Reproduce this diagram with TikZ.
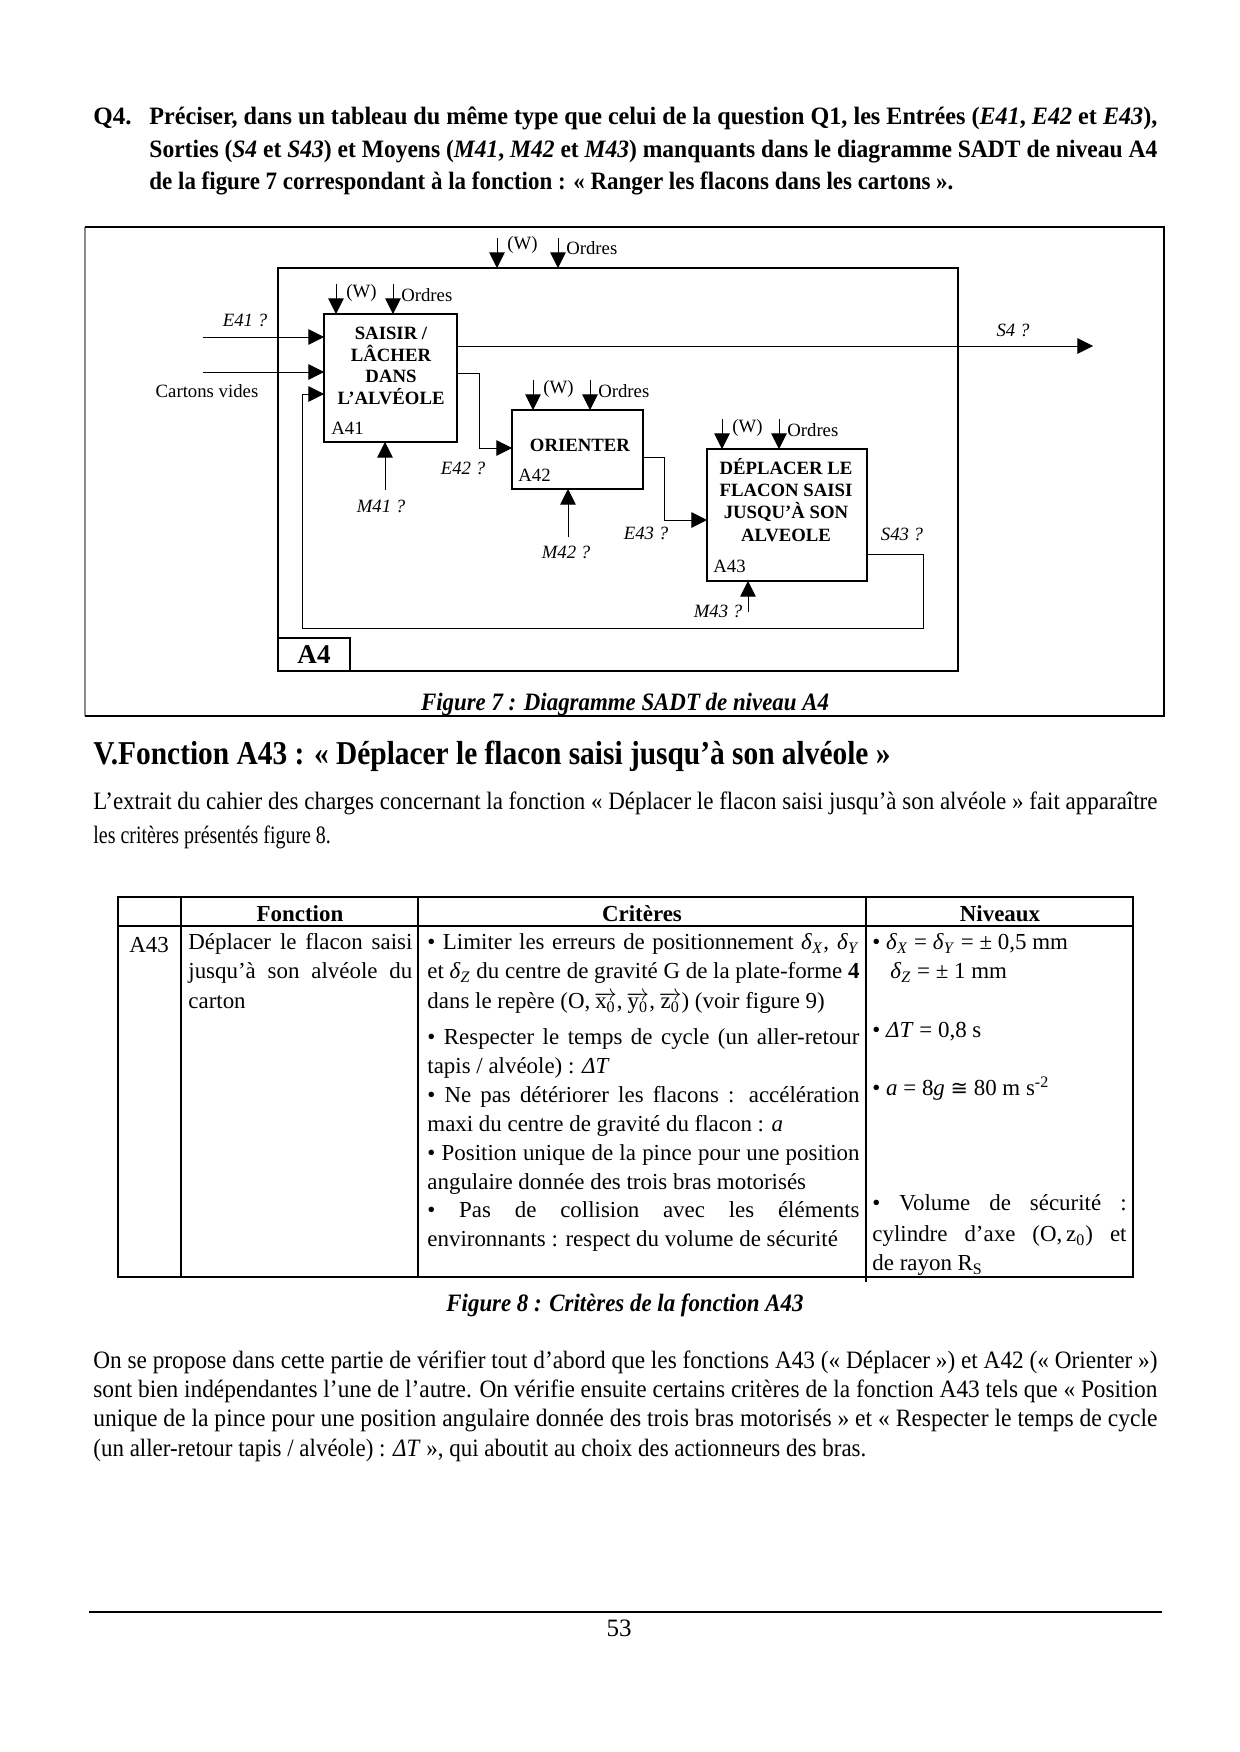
\documentclass[tikz,border=0pt]{standalone}
\usepackage{fontspec}
\setmainfont{Liberation Serif}
\newfontfamily\symbfont{DejaVu Sans}
\usepackage{graphicx}
\usetikzlibrary{arrows.meta,positioning}

% une ligne de texte ramenee a la largeur voulue
\newcommand{\fitline}[2]{\resizebox{#1}{\height}{#2}}
\newcommand{\just}[2]{\makebox[#1][s]{#2}}
\newcommand{\dlt}[1]{\textit{δ}\textsubscript{\textit{#1}}}
\newcommand{\vecteur}[1]{$\overrightarrow{\hbox{#1\textsubscript{0}}}$}

\tikzset{
  flux/.style={-{Triangle[length=7.5pt,width=7.5pt]}, line width=0.45pt},
  boite/.style={line width=0.6pt},
  fonct/.style={font=\fontsize{9}{10.4}\selectfont\bfseries, align=center, inner sep=0pt},
  petit/.style={font=\fontsize{9}{10}\selectfont, inner sep=0pt},
  quest/.style={font=\fontsize{9}{10}\selectfont\itshape, inner sep=0pt},
  ligne/.style={anchor=mid west, inner sep=0pt, font=\fontsize{12}{14}\selectfont},
  gras/.style={anchor=mid west, inner sep=0pt, font=\fontsize{12}{14}\selectfont\bfseries},
  cellule/.style={anchor=mid west, inner sep=0pt, font=\fontsize{11}{13}\selectfont},
}

\begin{document}
\begin{tikzpicture}[x=0.48pt,y=-0.48pt]
  \fill[white] (0,0) rectangle (1240,1752);
  \useasboundingbox (0,0) rectangle (1240,1752);

  % question Q4
  \node[gras] (q4) at (93,120) {Q4.};
  \node[gras] (q4a) at (149,120) {\fitline{483.8pt}{Préciser, dans un tableau du même type que celui de la question Q1, les Entrées (\textit{E41}, \textit{E42} et \textit{E43}),}};
  \node[gras] (q4b) at (149,153) {\fitline{483.8pt}{Sorties (\textit{S4} et \textit{S43}) et Moyens (\textit{M41}, \textit{M42} et \textit{M43}) manquants dans le diagramme SADT de niveau A4}};
  \node[gras] (q4c) at (149,185) {\fitline{385.9pt}{de la figure 7 correspondant à la fonction : « Ranger les flacons dans les cartons ».}};

  % figure 7
  \coordinate (cadreNO) at (85,227);
  \coordinate (cadreSE) at (1164,716);
  \draw[black!45, line width=0.5pt] (cadreNO) -- (cadreNO |- cadreSE);
  \draw[line width=0.7pt] (cadreNO) -- (cadreNO -| cadreSE) -- (cadreSE) -- (cadreNO |- cadreSE);

  \coordinate (a4no) at (278,268);
  \coordinate (a4se) at (958,671);
  \coordinate (tag) at (350,638);
  \draw[boite] (a4no) rectangle (a4se);
  \draw[boite] (a4no |- tag) -- (tag) -- (tag |- a4se);
  \node[font=\fontsize{13}{15}\selectfont\bfseries] (a4) at (314,655) {A4};

  \coordinate (w4) at (497,268);
  \coordinate (o4) at (558,268);
  \draw[flux] ([yshift=14.4pt]w4) -- (w4);
  \draw[flux] ([yshift=14.4pt]o4) -- (o4);
  \node[petit, anchor=mid west] (w4t) at ([xshift=4.8pt,yshift=11pt]w4) {(W)};
  \node[petit, anchor=mid west] (o4t) at ([xshift=3.8pt,yshift=9pt]o4) {Ordres};

  % A41
  \coordinate (a41no) at (324,314);
  \coordinate (a41se) at (457,442);
  \draw[boite] (a41no) rectangle (a41se);
  \node[fonct] (t41) at (391,366) {SAISIR /\\LÂCHER\\DANS\\L’ALVÉOLE};
  \node[petit, anchor=mid west] (n41) at (331,430) {A41};
  \coordinate (w41) at (336,314);
  \coordinate (o41) at (393,314);
  \draw[flux] ([yshift=14.4pt]w41) -- (w41);
  \draw[flux] ([yshift=14.4pt]o41) -- (o41);
  \node[petit, anchor=mid west] (w41t) at ([xshift=4.8pt,yshift=10pt]w41) {(W)};
  \node[petit, anchor=mid west] (o41t) at ([xshift=3.8pt,yshift=8.4pt]o41) {Ordres};

  % A42
  \coordinate (a42no) at (512,410);
  \coordinate (a42se) at (643,489);
  \draw[boite] (a42no) rectangle (a42se);
  \node[fonct] (t42) at (580,445) {ORIENTER};
  \node[petit, anchor=mid west] (n42) at (518,477) {A42};
  \coordinate (w42) at (533,410);
  \coordinate (o42) at (590,410);
  \draw[flux] ([yshift=14.4pt]w42) -- (w42);
  \draw[flux] ([yshift=14.4pt]o42) -- (o42);
  \node[petit, anchor=mid west] (w42t) at ([xshift=4.8pt,yshift=10pt]w42) {(W)};
  \node[petit, anchor=mid west] (o42t) at ([xshift=3.8pt,yshift=8.4pt]o42) {Ordres};

  % A43
  \coordinate (a43no) at (707,449);
  \coordinate (a43se) at (867,581);
  \draw[boite] (a43no) rectangle (a43se);
  \node[fonct, font=\fontsize{9}{10.6}\selectfont\bfseries] (t43) at (786,500) {DÉPLACER LE\\FLACON SAISI\\JUSQU’À SON\\ALVEOLE};
  \node[petit, anchor=mid west] (n43) at (713,568) {A43};
  \coordinate (w43) at (722,449);
  \coordinate (o43) at (779,449);
  \draw[flux] ([yshift=14.4pt]w43) -- (w43);
  \draw[flux] ([yshift=14.4pt]o43) -- (o43);
  \node[petit, anchor=mid west] (w43t) at ([xshift=4.8pt,yshift=10pt]w43) {(W)};
  \node[petit, anchor=mid west] (o43t) at ([xshift=3.8pt,yshift=8.4pt]o43) {Ordres};

  % entrees et sorties
  \coordinate (e41) at (203,337);
  \draw[flux] (e41) -- (e41 -| a41no);
  \node[quest] (e41t) at (245,320) {E41 ?};
  \coordinate (carton) at (203,372);
  \draw[flux] (carton) -- (carton -| a41no);
  \node[petit] (cartont) at (207,391) {Cartons vides};

  \coordinate (s4) at (1093,346);
  \draw[flux] (a41se |- s4) -- (s4);
  \node[quest] (s4t) at (1013,330) {S4 ?};

  \coordinate (e42) at (479,373);
  \coordinate (e42b) at (479,448);
  \draw[flux] (a41se |- e42) -- (e42) -- (e42b) -- (e42b -| a42no);
  \node[quest] (e42t) at (463,468) {E42 ?};

  \coordinate (e43) at (664,457);
  \coordinate (e43b) at (664,520);
  \draw[flux] (a42se |- e43) -- (e43) -- (e43b) -- (e43b -| a43no);
  \node[quest] (e43t) at (646,533) {E43 ?};

  \coordinate (s43) at (867,554);
  \coordinate (boucle) at (923,628);
  \coordinate (retour) at (302,394);
  \draw[flux] (s43) -- (boucle |- s43) -- (boucle) -- (retour |- boucle) -- (retour) -- (retour -| a41no);
  \node[quest] (s43t) at (902,534) {S43 ?};

  % moyens
  \coordinate (m41) at (385,490);
  \draw[flux] (m41) -- (m41 |- a41se);
  \node[quest] (m41t) at (381,506) {M41 ?};
  \coordinate (m42) at (568,537);
  \draw[flux] (m42) -- (m42 |- a42se);
  \node[quest] (m42t) at (566,552) {M42 ?};
  \coordinate (m43) at (748,612);
  \draw[flux] (m43) -- (m43 |- a43se);
  \node[quest] (m43t) at (718,611) {M43 ?};

  \node[font=\fontsize{12}{14}\selectfont\bfseries\itshape] (fig7) at (625,704) {\fitline{195.8pt}{Figure 7 : Diagramme SADT de niveau A4}};

  % partie V
  \node[anchor=mid west, inner sep=0pt, font=\fontsize{16}{19}\selectfont\bfseries] (titre) at (93,760) {\fitline{382.6pt}{V.Fonction A43 : « Déplacer le flacon saisi jusqu'à son alvéole »}};
  \node[ligne] (p1a) at (93,805) {\fitline{510.7pt}{L'extrait du cahier des charges concernant la fonction « Déplacer le flacon saisi jusqu'à son alvéole » fait apparaître}};
  \node[ligne] (p1b) at (93,839) {\fitline{114pt}{les critères présentés figure 8.}};

  % tableau figure 8
  \coordinate (tabno) at (118,897);
  \coordinate (tabse) at (1133,1277);
  \draw[line width=0.5pt] (tabno) rectangle (tabse);
  \draw[line width=0.5pt] (118,926) -- (1133,926);
  \draw[line width=0.5pt] (181,897) -- (181,1277);
  \draw[line width=0.5pt] (418,897) -- (418,1277);
  \draw[line width=0.5pt] (866,897) -- (866,1282);
  \node[font=\fontsize{11}{13}\selectfont\bfseries] (hf) at (300,914) {Fonction};
  \node[font=\fontsize{11}{13}\selectfont\bfseries] (hc) at (642,914) {Critères};
  \node[font=\fontsize{11}{13}\selectfont\bfseries] (hn) at (1000,914) {Niveaux};

  \node[font=\fontsize{11}{13}\selectfont] (c43) at (149,945) {A43};
  \node[cellule] (f1) at (188,945) {\just{107.5pt}{Déplacer le flacon saisi}};
  \node[cellule] (f2) at (188,974) {\just{107.5pt}{jusqu'à son alvéole du}};
  \node[cellule] (f3) at (188,1004) {carton};

  \node[cellule] (k1) at (427,945) {\just{207.4pt}{• Limiter les erreurs de positionnement \dlt{X}, \dlt{Y}}};
  \node[cellule] (k2) at (427,974) {\just{207.4pt}{et \dlt{Z} du centre de gravité G de la plate-forme \textbf{4}}};
  \node[cellule] (k3) at (427,1004) {dans le repère (O,\,\vecteur{x},\,\vecteur{y},\,\vecteur{z}) (voir figure 9)};
  \node[cellule] (k4) at (427,1040) {\just{207.4pt}{• Respecter le temps de cycle (un aller-retour}};
  \node[cellule] (k5) at (427,1069) {tapis / alvéole) : \textit{ΔT}};
  \node[cellule] (k6) at (427,1098) {\just{207.4pt}{• Ne pas détériorer les flacons : accélération}};
  \node[cellule] (k7) at (427,1127) {maxi du centre de gravité du flacon : \textit{a}};
  \node[cellule] (k8) at (427,1156) {\just{207.4pt}{• Position unique de la pince pour une position}};
  \node[cellule] (k9) at (427,1185) {angulaire donnée des trois bras motorisés};
  \node[cellule] (k10) at (427,1213) {\just{207.4pt}{• Pas de collision avec les éléments}};
  \node[cellule] (k11) at (427,1242) {environnants : respect du volume de sécurité};

  \node[cellule] (n1) at (872,945) {• \dlt{X} = \dlt{Y} = ± 0,5 mm};
  \node[cellule] (n2) at (890,974) {\dlt{Z} = ± 1 mm};
  \node[cellule] (n3) at (872,1033) {• \textit{ΔT} = 0,8 s};
  \node[cellule] (n4) at (872,1091) {• \textit{a} = 8\textit{g} {\symbfont\fontsize{10}{12}\selectfont ≅} 80 m s\textsuperscript{-2}};
  \node[cellule] (n5) at (872,1206) {\just{122pt}{• Volume de sécurité :}};
  \node[cellule] (n6) at (872,1237) {\just{122pt}{cylindre d'axe (O,\,z\textsubscript{0}) et}};
  \node[cellule] (n7) at (872,1266) {de rayon R\textsubscript{S}};

  \node[font=\fontsize{12}{14}\selectfont\bfseries\itshape] (fig8) at (625,1305) {\fitline{171.4pt}{Figure 8 : Critères de la fonction A43}};

  \node[ligne] (p2a) at (93,1364) {\fitline{510.7pt}{On se propose dans cette partie de vérifier tout d’abord que les fonctions A43 (« Déplacer ») et A42 (« Orienter »)}};
  \node[ligne] (p2b) at (93,1393) {\fitline{510.7pt}{sont bien indépendantes l’une de l’autre. On vérifie ensuite certains critères de la fonction A43 tels que « Position}};
  \node[ligne] (p2c) at (93,1422) {\fitline{510.7pt}{unique de la pince pour une position angulaire donnée des trois bras motorisés » et « Respecter le temps de cycle}};
  \node[ligne] (p2d) at (93,1452) {\fitline{371pt}{(un aller-retour tapis / alvéole) : \textit{ΔT} », qui aboutit au choix des actionneurs des bras.}};

  % pied de page
  \draw[line width=1pt] (89,1612) -- (1162,1612);
  \node[font=\fontsize{12}{14}\selectfont] (page) at (619,1628) {53};
\end{tikzpicture}
\end{document}
